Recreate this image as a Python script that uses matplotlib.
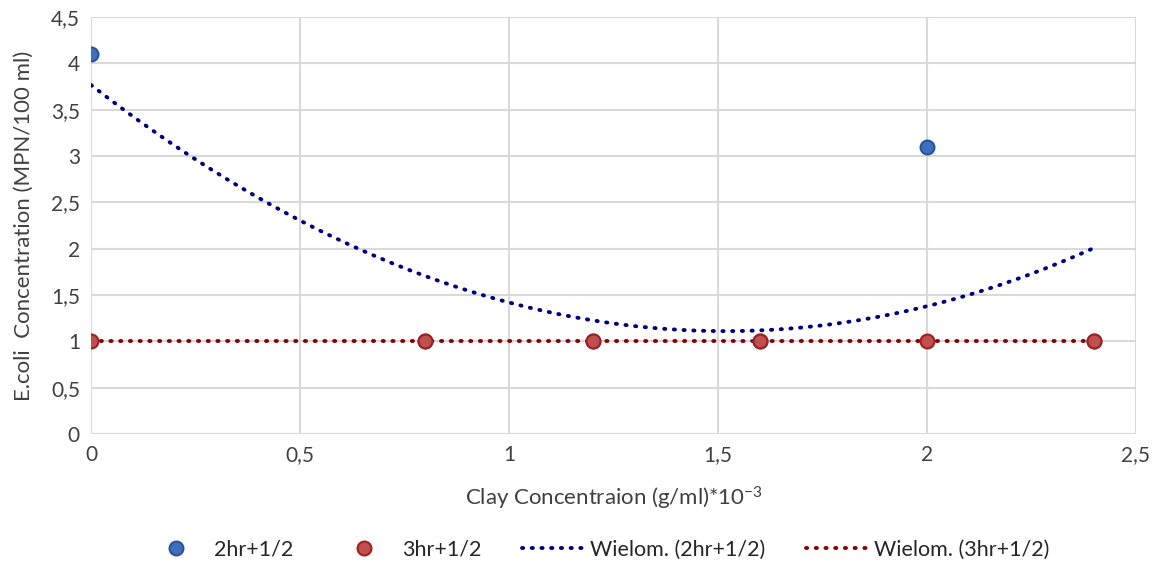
import numpy as np
import matplotlib.pyplot as plt
from matplotlib.ticker import FuncFormatter, MultipleLocator

plt.rcParams['font.family'] = ['Lato', 'DejaVu Sans']
plt.rcParams['mathtext.default'] = 'regular'

# data (2hr points at 0.8-2.4 sit under the red ones)
clay = [0, 0.8, 1.2, 1.6, 2.0, 2.4]
ecoli_2hr = [4.1, 1, 1, 1, 3.1, 1]
ecoli_3hr = [1, 1, 1, 1, 1, 1]

# 2nd order polynomial trendlines, like Excel's "Wielom."
fit_2hr = np.polyfit(clay, ecoli_2hr, 2)
fit_3hr = np.polyfit(clay, ecoli_3hr, 2)
xs = np.linspace(min(clay), max(clay), 200)

fig = plt.figure(figsize=(11.58, 5.64), dpi=100)
ax = fig.add_axes([0.0786, 0.2305, 0.9024, 0.7395])

dots = (0, (0.3, 2.2))
ax.plot(xs, np.polyval(fit_2hr, xs), color='#00007f', lw=2.8, ls=dots,
        dash_capstyle='round', label='Wielom. (2hr+1/2)', zorder=3)
ax.plot(xs, np.polyval(fit_3hr, xs), color='#8b0000', lw=2.8, ls=dots,
        dash_capstyle='round', label='Wielom. (3hr+1/2)', zorder=3)
ax.plot(clay, ecoli_2hr, 'o', color='#3f6fbf', mec='#2a5298', mew=1.5, ms=10,
        label='2hr+1/2', zorder=4)
ax.plot(clay, ecoli_3hr, 'o', color='#c0504d', mec='#a02020', mew=1.5, ms=10,
        label='3hr+1/2', zorder=5)

ax.set_xlim(0, 2.5)
ax.set_ylim(0, 4.5)
ax.xaxis.set_major_locator(MultipleLocator(0.5))
ax.yaxis.set_major_locator(MultipleLocator(0.5))
comma = FuncFormatter(lambda v, p: ('%g' % v).replace('.', ','))
ax.xaxis.set_major_formatter(comma)
ax.yaxis.set_major_formatter(comma)
ax.tick_params(length=0, labelsize=15, colors='#404040', pad=8)
ax.grid(True, color='#d9d9d9', lw=1.5)
ax.set_axisbelow(True)
for s in ax.spines.values():
    s.set_visible(False)

ax.set_xlabel('Clay Concentraion (g/ml)*10$^{-3}$', fontsize=16, color='#404040', labelpad=14)
ax.set_ylabel('E.coli  Concentration (MPN/100 ml)', fontsize=16, color='#404040', labelpad=12)

h, l = ax.get_legend_handles_labels()
order = [2, 3, 0, 1]
fig.legend([h[i] for i in order], [l[i] for i in order], loc='center',
           bbox_to_anchor=(0.516, 0.025), ncol=4, frameon=False, fontsize=15.5,
           handlelength=2.8, handletextpad=0.35, columnspacing=1.9,
           labelcolor='#262626')

fig.savefig('out.png', dpi=100)
